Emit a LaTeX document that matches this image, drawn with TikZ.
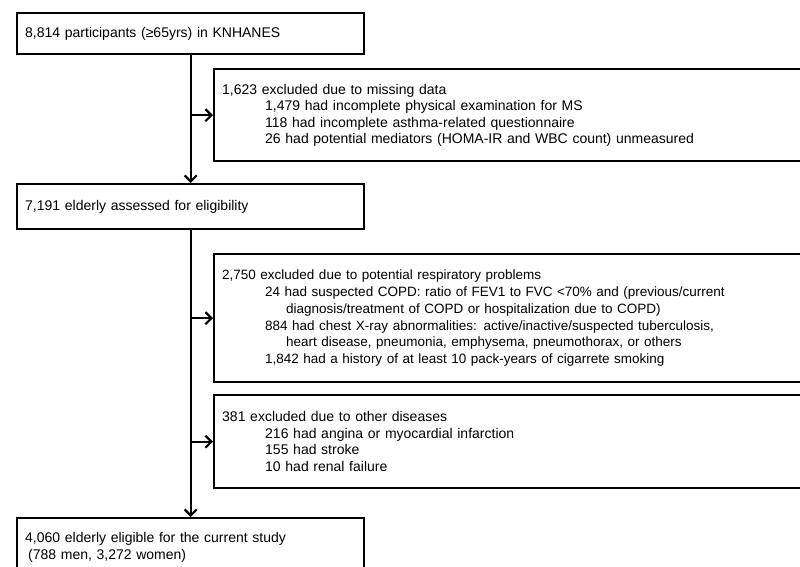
\documentclass[tikz,border=0pt]{standalone}
\usepackage{fontspec}
\setmainfont{Liberation Sans}
\usetikzlibrary{arrows.meta}

\begin{document}
\begin{tikzpicture}[x = 1pt, y = -1pt, > = {Straight Barb[length = 6pt, width = 12pt]},
	box/.style = {draw, line width = 2.4pt, anchor = north west, align = left, inner xsep = 8pt, inner ysep = 0pt,
		font = \fontsize{14}{16.5}\selectfont},
	mainbox/.style = {box, text width = 331pt},
	sidebox/.style = {box, text width = 604pt},
	flow/.style = {->, line width = 2.2pt}]

	% Definitions
	
	\def\ind{\hspace*{43pt}}	% Indent of the sub-items
	\def\cont{\hspace*{64pt}}	% Indent of a continued sub-item
	
	% Frame of the picture; the exclusion boxes run past its right edge
	
	\useasboundingbox (0, 0) rectangle (800, 567);
	\clip (0, 0) rectangle (800, 567);
	
	% Main boxes down the left-hand side
	
	\node [mainbox, minimum height = 41] (start) at (16, 12) {8,814 participants (≥65yrs) in KNHANES};
	\node [mainbox, minimum height = 45] (elig) at (16, 183) {7,191 elderly assessed for eligibility};
	\node [mainbox, minimum height = 58] (final) at (16, 517) {4,060 elderly eligible for the current study\\
		\hspace*{3pt}(788 men, 3,272 women)};
	
	% Exclusion boxes on the right
	
	\node [sidebox, minimum height = 92] (missing) at (213, 68) {1,623 excluded due to missing data\\
		\ind 1,479 had incomplete physical examination for MS\\
		\ind 118 had incomplete asthma-related questionnaire\\
		\ind 26 had potential mediators (HOMA-IR and WBC count) unmeasured};
	
	\node [sidebox, minimum height = 128, font = \fontsize{13.5}{16.8}\selectfont] (resp) at (213, 253) {2,750 excluded due to potential respiratory problems\\
		\ind 24 had suspected COPD: ratio of FEV1 to FVC <70\% and (previous/current\\
		\cont diagnosis/treatment of COPD or hospitalization due to COPD)\\
		\ind 884 had chest X-ray abnormalities: active/inactive/suspected tuberculosis,\\
		\cont heart disease, pneumonia, emphysema, pneumothorax, or others\\
		\ind 1,842 had a history of at least 10 pack-years of cigarrete smoking};
	
	\node [sidebox, minimum height = 93] (other) at (213, 394) {381 excluded due to other diseases\\
		\ind 216 had angina or myocardial infarction\\
		\ind 155 had stroke\\
		\ind 10 had renal failure};
	
	% Flow down the main line
	
	\draw [flow] (start) -- (elig);
	\draw [flow] (elig) -- (final);
	
	% Branches off to the exclusions
	
	\draw [flow] (start.south |- missing.west) -- (missing.west);
	\draw [flow] (elig.south |- resp.west) -- (resp.west);
	\draw [flow] (elig.south |- other.west) -- (other.west);
	
\end{tikzpicture}
\end{document}
